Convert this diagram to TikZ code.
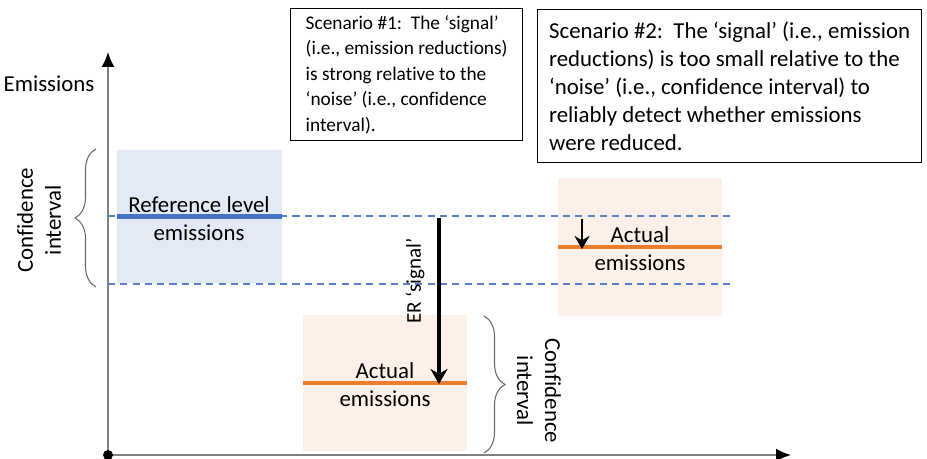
\documentclass[tikz,border=0pt]{standalone}
\usepackage{fontspec}
\setmainfont{Carlito}[Ligatures=NoCommon]
\usetikzlibrary{arrows.meta,decorations.pathreplacing}
\definecolor{refblue}{HTML}{4472C4}
\definecolor{reffill}{HTML}{E3E9F5}
\definecolor{actorange}{HTML}{ED7D31}
\definecolor{actfill}{HTML}{FCF0E8}
\definecolor{axisgray}{HTML}{808080}

\begin{document}
\begin{tikzpicture}[x=0.02cm,y=-0.02cm,
  lbl/.style={font=\fontsize{13}{15.9}\selectfont,align=center,inner sep=0pt},
  levelbox/.style={minimum width=3.3cm,inner sep=0pt},
  scenario/.style={draw,line width=0.8pt,anchor=north west,align=left,inner sep=0pt},
  ci/.style={decorate,decoration={brace,amplitude=0.42cm},axisgray!80!black,line width=0.6pt},
  level/.style={line width=2.3pt},
  ci line/.style={refblue!90!white,line width=1.1pt,dash pattern=on 4pt off 3pt}]
  \useasboundingbox (0,0) rectangle (927,459);
  % shaded boxes
  \node[levelbox,fill=reffill,minimum height=2.66cm] (refbox) at (199.5,216.5) {};
  \node[levelbox,fill=actfill,minimum width=3.28cm,minimum height=2.72cm] (actbox) at (385,383) {};
  \node[levelbox,fill=actfill,minimum width=3.28cm,minimum height=2.76cm] (actboxb) at (640,247) {};
  % confidence band of the reference level
  \coordinate (hiL) at (108,216);
  \coordinate (hiR) at (735,216);
  \coordinate (loL) at (108,284);
  \coordinate (loR) at (735,284);
  \draw[ci line] (hiL) -- (hiR);
  \draw[ci line] (loL) -- (loR);
  % levels
  \draw[level,refblue] (refbox.west) -- (refbox.east);
  \draw[level,actorange] (actbox.west) -- (actbox.east);
  \draw[level,actorange] (actboxb.west) -- (actboxb.east);
  \node[lbl] (reflbl) at (199,219) {Reference level\\emissions};
  \node[lbl] (actlbl) at (385,385) {Actual\\emissions};
  \node[lbl] (actlblb) at (640,249) {Actual\\emissions};
  % axes
  \coordinate (o) at (108,455);
  \coordinate (ytop) at (108,52);
  \coordinate (xend) at (791,455);
  \draw[axisgray,line width=1.1pt,-{Latex[length=3mm,width=2.6mm,black]}] (o) -- (ytop);
  \draw[axisgray,line width=1.1pt,-{Latex[length=3mm,width=2.6mm,black]}] (o) -- (xend);
  \fill (o) circle[radius=5];
  \node[lbl] (ylbl) at (49,84) {Emissions};
  % confidence intervals
  \coordinate (ciAb) at (96,287);
  \coordinate (ciAt) at (96,149);
  \coordinate (ciBt) at (484,316);
  \coordinate (ciBb) at (484,453);
  \draw[ci] (ciAb) -- (ciAt);
  \draw[ci] (ciBt) -- (ciBb);
  \node[lbl,rotate=90] (cilblA) at (39,220) {Confidence\\interval};
  \node[lbl,rotate=-90] (cilblB) at (539,391) {Confidence\\interval};
  % emission reductions
  \coordinate (ertop) at (439,218);
  \coordinate (erend) at (439,384);
  \draw[line width=2pt,-{Stealth[length=3mm,width=3.4mm]}] (ertop) -- (erend);
  \node[lbl,rotate=90,font=\fontsize{12}{14}\selectfont] (erlbl) at (415,281) {ER ‘signal’};
  \coordinate (smtop) at (582,219);
  \coordinate (smend) at (582,249);
  \draw[line width=1.6pt,-{Stealth[length=2.6mm,width=3mm]}] (smtop) -- (smend);
  % scenarios
  \node[scenario,minimum width=4.64cm,minimum height=2.64cm,
    font=\fontsize{11}{14.5}\selectfont] (scen1) at (290,8)
    {Scenario \#1:\ \ The ‘signal’\\
    (i.e., emission reductions)\\is strong relative to the\\
    ‘noise’ (i.e., confidence\\interval).};
  \node[scenario,minimum width=7.68cm,minimum height=3.06cm,
    font=\fontsize{13}{15.9}\selectfont] (scen2) at (537,9)
    {Scenario \#2:\ \ The ‘signal’ (i.e., emission\\
    reductions) is too small relative to the\\
    ‘noise’ (i.e., confidence interval) to\\
    reliably detect whether emissions\\were reduced.};
\end{tikzpicture}
\end{document}
